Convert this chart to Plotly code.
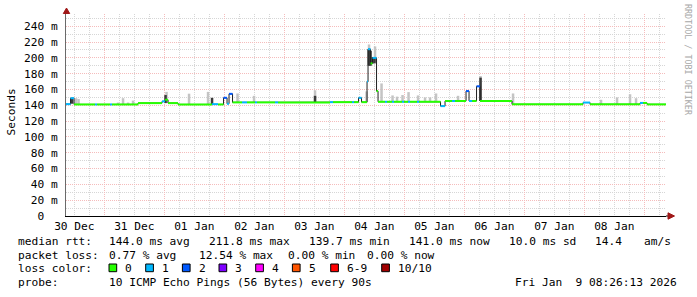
import plotly.graph_objects as go

# ---------------- data ----------------
range_start = "2025-12-30 08:40"
range_end = "2026-01-09 08:40"

# median rtt segments (start time, median in ms, lost pings out of 10)
seg_start = [
    "2025-12-30 08:40", "2025-12-30 10:29", "2025-12-30 11:53", "2025-12-30 20:17", "2025-12-30 21:05",
    "2025-12-31 02:17", "2025-12-31 03:05", "2025-12-31 13:29", "2025-12-31 23:05", "2026-01-01 00:17",
    "2026-01-01 01:29", "2026-01-01 05:29", "2026-01-01 19:05", "2026-01-01 21:29", "2026-01-01 23:41",
    "2026-01-02 01:05", "2026-01-02 01:53", "2026-01-02 03:17", "2026-01-02 07:05", "2026-01-02 09:05",
    "2026-01-02 12:17", "2026-01-02 13:05", "2026-01-02 20:17", "2026-01-02 21:29", "2026-01-03 18:17",
    "2026-01-03 19:29", "2026-01-04 03:05", "2026-01-04 03:53", "2026-01-04 05:41", "2026-01-04 06:53",
    "2026-01-04 09:05", "2026-01-04 09:29", "2026-01-04 10:29", "2026-01-04 11:17", "2026-01-04 12:53",
    "2026-01-04 13:29", "2026-01-04 16:17", "2026-01-04 17:05", "2026-01-04 19:05", "2026-01-04 19:53",
    "2026-01-04 23:05", "2026-01-04 23:53", "2026-01-05 01:29", "2026-01-05 02:17", "2026-01-05 05:05",
    "2026-01-05 05:53", "2026-01-05 14:29", "2026-01-05 16:17", "2026-01-05 19:05", "2026-01-05 20:17",
    "2026-01-06 00:41", "2026-01-06 01:53", "2026-01-06 03:05", "2026-01-06 04:53", "2026-01-06 06:17",
    "2026-01-06 19:05", "2026-01-07 23:29", "2026-01-08 02:17", "2026-01-08 22:17", "2026-01-08 23:29",
    "2026-01-09 01:05",
]
seg_median = [
    141.5, 149.0, 141.1, 141.1, 141.1,
    141.1, 141.1, 142.8, 145.0, 147.0,
    142.8, 141.1, 141.5, 141.1, 149.5,
    142.0, 154.5, 143.7, 143.7, 143.7,
    143.7, 143.7, 143.7, 143.7, 144.0,
    144.0, 144.0, 144.0, 149.5, 144.0,
    170.0, 211.0, 193.0, 200.0, 158.0,
    144.5, 144.5, 144.5, 144.5, 144.5,
    144.5, 144.5, 144.5, 144.5, 144.5,
    144.5, 139.0, 145.5, 145.5, 145.5,
    158.0, 145.5, 145.5, 164.0, 145.5,
    141.2, 143.5, 141.2, 143.0, 143.0,
    141.2,
]
seg_loss = [
    1, 1, 0, 1, 0,
    1, 0, 0, 1, 0,
    0, 0, 1, 0, 2,
    1, 2, 0, 1, 0,
    1, 0, 1, 0, 1,
    0, 1, 0, 1, 0,
    1, 1, 0, 1, 0,
    0, 1, 0, 1, 0,
    1, 0, 1, 0, 1,
    0, 1, 0, 1, 0,
    2, 1, 0, 2, 0,
    0, 1, 0, 1, 0,
    0,
]

# light smoke (spread of the 10 pings)
smoke_time = [
    "2025-12-30 12:41", "2025-12-30 13:41", "2025-12-31 05:29", "2025-12-31 07:29", "2025-12-31 09:29",
    "2025-12-31 11:29", "2026-01-01 00:53", "2026-01-01 09:53", "2026-01-01 17:29", "2026-01-02 05:17",
    "2026-01-02 11:53", "2026-01-03 12:17", "2026-01-04 08:53", "2026-01-04 09:53", "2026-01-04 12:17",
    "2026-01-04 14:53", "2026-01-04 19:17", "2026-01-04 21:05", "2026-01-04 23:17", "2026-01-05 01:41",
    "2026-01-05 05:29", "2026-01-05 08:17", "2026-01-05 10:17", "2026-01-05 12:41", "2026-01-05 21:29",
    "2026-01-06 06:29", "2026-01-06 19:29", "2026-01-08 06:41", "2026-01-08 13:05", "2026-01-08 18:17",
    "2026-01-08 20:41",
]
smoke_low = [
    141.1, 141.1, 141.1, 141.1, 141.1,
    141.1, 142.8, 141.1, 141.1, 143.7,
    143.7, 144.0, 144.0, 195.0, 195.0,
    144.5, 144.5, 144.5, 144.5, 144.5,
    144.5, 144.5, 144.5, 144.5, 145.5,
    145.5, 141.2, 141.2, 141.2, 141.2,
    141.2,
]
smoke_high = [
    149.0, 148.0, 143.5, 149.0, 143.5,
    146.0, 157.0, 154.7, 157.0, 155.0,
    152.0, 159.0, 157.6, 217.0, 214.5,
    167.7, 152.5, 151.0, 153.0, 156.7,
    152.5, 150.0, 150.0, 155.0, 152.0,
    177.0, 155.0, 147.0, 150.0, 154.0,
    149.0,
]

# dark smoke (pings close to the median)
dark_time = [
    "2025-12-30 11:05", "2026-01-01 00:29", "2026-01-01 19:05", "2026-01-03 12:17", "2026-01-04 09:48",
    "2026-01-04 10:29", "2026-01-04 11:17", "2026-01-04 12:05", "2026-01-06 06:29",
]
dark_low = [142.0, 142.8, 141.1, 144.0, 190.0, 190.0, 193.0, 193.0, 145.5]
dark_high = [149.0, 153.0, 149.5, 152.0, 211.0, 209.0, 201.0, 201.0, 175.0]

loss_labels = ["0", "1", "2", "3", "4", "5", "6-9", "10/10"]
loss_colors = ["#26ff00", "#00b8ff", "#0059ff", "#7e00ff", "#ff00ff", "#ff5500", "#ff0000", "#a10000"]

y_ticks = list(range(0, 241, 20))
y_ticktext = ["0\u00a0\u00a0" if v == 0 else f"{v} m" for v in y_ticks]

stats_line1 = ["median rtt:", "144.0 ms avg", "211.8 ms max", "139.7 ms min", "141.0 ms now",
               "10.0 ms sd", "14.4", "am/s"]
stats_line2 = ["packet loss:", "0.77 % avg", "12.54 % max", "0.00 % min", "0.00 % now"]
probe_text = ["probe:", "10 ICMP Echo Pings (56 Bytes) every 90s", "Fri Jan  9 08:26:13 2026"]

# ---------------- layout geometry ----------------
W, H = 697, 297
L, R, T, B = 66, 31, 14, 81
PW, PH = W - L - R, H - T - B
FONT = "DejaVu Sans Mono"


def px(x):
    return (x - L) / PW


def py(y):
    return (H - B - y) / PH


def loss_index(n):
    if n <= 5:
        return n
    if n <= 9:
        return 6
    return 7


fig = go.Figure()

# light smoke
sx, sy = [], []
for t, lo, hi in zip(smoke_time, smoke_low, smoke_high):
    sx += [t, t, None]
    sy += [lo, hi, None]
fig.add_trace(go.Scatter(x=sx, y=sy, mode="lines", line=dict(color="#c4c4c4", width=2.5),
                         hoverinfo="skip"))

# dark smoke
dx, dy = [], []
for t, lo, hi in zip(dark_time, dark_low, dark_high):
    dx += [t, t, None]
    dy += [lo, hi, None]
fig.add_trace(go.Scatter(x=dx, y=dy, mode="lines", line=dict(color="#3a3a3a", width=2.5),
                         hoverinfo="skip"))

seg_end = seg_start[1:] + [range_end]

# thin dark median outline (gives vertical transitions)
mx, my = [], []
for s, e, v in zip(seg_start, seg_end, seg_median):
    mx += [s, e]
    my += [v, v]
fig.add_trace(go.Scatter(x=mx, y=my, mode="lines", line=dict(color="#202020", width=1),
                         hoverinfo="skip"))

# coloured median segments by packet loss
for ci, col in enumerate(loss_colors):
    cx, cy = [], []
    for s, e, v, n in zip(seg_start, seg_end, seg_median, seg_loss):
        if loss_index(n) == ci:
            cx += [s, e, None]
            cy += [v, v, None]
    if cx:
        fig.add_trace(go.Scatter(x=cx, y=cy, mode="lines", line=dict(color=col, width=2),
                                 hoverinfo="skip"))

RED_GRID = "#f5bcbc"
GRAY_GRID = "#d6d6d6"
DOT = "1px,1px"

fig.update_layout(
    width=W, height=H,
    margin=dict(l=L, r=R, t=T, b=B, pad=0),
    paper_bgcolor="white", plot_bgcolor="white",
    showlegend=False, hovermode=False,
    font=dict(family=FONT, size=11.2, color="black"),
    xaxis=dict(
        type="date", range=[range_start, range_end],
        tickmode="linear", tick0="2025-12-31 00:00", dtick=86400000,
        ticklabelmode="period", tickformat="%d %b", ticks="",
        showgrid=True, gridcolor=RED_GRID, griddash=DOT, gridwidth=1,
        minor=dict(dtick=6 * 3600 * 1000, tick0="2025-12-31 00:00", showgrid=True,
                   gridcolor=GRAY_GRID, griddash=DOT, gridwidth=1, ticks=""),
        showline=True, linecolor="#000000", linewidth=1, zeroline=False,
        tickfont=dict(family=FONT, size=11.2, color="black"),
        fixedrange=True,
    ),
    yaxis=dict(
        range=[0, 255.5], tickmode="array", tickvals=y_ticks, ticktext=y_ticktext,
        ticks="", ticklabelstandoff=5,
        showgrid=True, gridcolor=RED_GRID, griddash=DOT, gridwidth=1,
        minor=dict(dtick=10, tick0=0, showgrid=True, gridcolor=GRAY_GRID, griddash=DOT,
                   gridwidth=1, ticks=""),
        showline=True, linecolor="#6a6a6a", linewidth=1, zeroline=False,
        tickfont=dict(family=FONT, size=11.2, color="black"),
        fixedrange=True,
    ),
)

shapes = []
# axis extensions and arrow heads
shapes.append(dict(type="line", xref="paper", yref="paper", x0=px(66.5), x1=px(66.5),
                   y0=1, y1=py(13), line=dict(color="#6a6a6a", width=1)))
shapes.append(dict(type="path", xref="paper", yref="paper",
                   path=f"M {px(63.3)},{py(13.5)} L {px(69.7)},{py(13.5)} L {px(66.5)},{py(8)} Z",
                   fillcolor="#a01818", line=dict(color="#a01818", width=1)))
shapes.append(dict(type="line", xref="paper", yref="paper", x0=1, x1=px(668.5),
                   y0=0, y1=0, line=dict(color="#000000", width=1)))
shapes.append(dict(type="path", xref="paper", yref="paper",
                   path=f"M {px(668)},{py(212.8)} L {px(668)},{py(219.2)} L {px(674.5)},{py(216)} Z",
                   fillcolor="#a01818", line=dict(color="#a01818", width=1)))

annotations = []


def text(x, y, s, **kw):
    d = dict(x=px(x), y=py(y), xref="paper", yref="paper", text=s, showarrow=False,
             xanchor="left", yanchor="middle", font=dict(family=FONT, size=11.2, color="black"))
    d.update(kw)
    annotations.append(d)


# legend / statistics lines
line1_x = [16, 107, 207, 306.5, 406.5, 507, 593, 642]
for x, s in zip(line1_x, stats_line1):
    text(x, 241, s)
line2_x = [16, 107, 196.5, 285.5, 365]
for x, s in zip(line2_x, stats_line2):
    text(x, 255, s)
text(16, 268.5, "loss color:")
label_x = [123.3, 160, 196.7, 233.3, 270, 306.7, 345, 396]
for x, s, c in zip(label_x, loss_labels, loss_colors):
    text(x, 268.5, s)
    shapes.append(dict(type="rect", xref="paper", yref="paper",
                       x0=px(x - 14.3), x1=px(x - 6.6), y0=py(271.7), y1=py(264),
                       fillcolor=c, line=dict(color="#000000", width=1)))
probe_x = [16, 107, 513]
for x, s in zip(probe_x, probe_text):
    text(x, 282.5, s)

# y-axis title and watermark
text(10.5, 112, "Seconds", xanchor="center", textangle=-90)
text(688, 60, "RRDTOOL / TOBI OETIKER", xanchor="center", textangle=90,
     font=dict(family=FONT, size=8.4, color="#a8a8a8"))

fig.update_layout(shapes=shapes, annotations=annotations)

fig.write_html("out.html")
